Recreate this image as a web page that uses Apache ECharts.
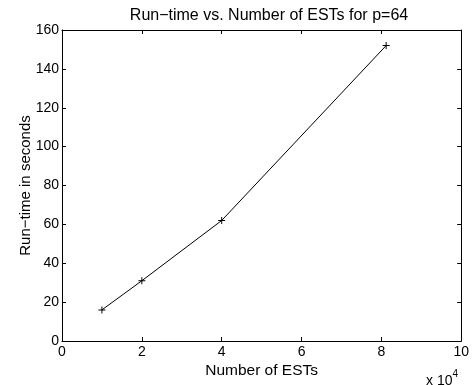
<!DOCTYPE html>
<html>
<head>
<meta charset="utf-8">
<script src="https://cdn.jsdelivr.net/npm/echarts@6/dist/echarts.min.js"></script>
<style>html,body{margin:0;padding:0;background:#fff}#c{width:472px;height:385px}</style>
</head>
<body>
<div id="c"></div>
<script>
// Data (x in units of 10^4 ESTs)
const ests = [1, 2, 4, 8.12];
const runtime = [16, 31, 62, 152];
const xTicks = [0, 2, 4, 6, 8, 10];
const yTicks = [0, 20, 40, 60, 80, 100, 120, 140, 160];

const FONT = 'Liberation Sans, Arial, Helvetica, sans-serif';
const chart = echarts.init(document.getElementById('c'), null, {renderer: 'canvas'});
const plusPath = 'path://M4.3,0h1.4v4.3h4.3v1.4h-4.3v4.3h-1.4v-4.3h-4.3v-1.4h4.3z';

const axisCommon = {
  type: 'value',
  axisLine: {show: true, onZero: false, lineStyle: {color: '#000', width: 1}},
  axisTick: {show: true, inside: true, length: 4, lineStyle: {color: '#000', width: 1}},
  splitLine: {show: false}
};

chart.setOption({
  backgroundColor: '#fff',
  animation: false,
  title: {
    text: 'Run\u2212time vs. Number of ESTs for p=64',
    left: 264, top: 3, textAlign: 'center',
    textStyle: {fontFamily: FONT, fontSize: 16, fontWeight: 'normal', color: '#000'}
  },
  grid: {left: 62, top: 30, right: 10, bottom: 44, containLabel: false},
  xAxis: [
    Object.assign({}, axisCommon, {
      min: xTicks[0], max: xTicks[xTicks.length - 1], interval: 2, position: 'bottom',
      name: 'Number of ESTs', nameLocation: 'middle', nameGap: 22, nameMoveOverlap: false,
      nameTextStyle: {fontFamily: FONT, fontSize: 15.5, color: '#000'},
      axisLabel: {color: '#000', fontFamily: FONT, fontSize: 14, margin: 4}
    }),
    Object.assign({}, axisCommon, {
      min: xTicks[0], max: xTicks[xTicks.length - 1], interval: 2, position: 'top',
      axisLabel: {show: false}
    })
  ],
  yAxis: [
    Object.assign({}, axisCommon, {
      min: yTicks[0], max: yTicks[yTicks.length - 1], interval: 20, position: 'left',
      name: 'Run\u2212time in seconds', nameLocation: 'middle', nameGap: 29, nameMoveOverlap: false,
      nameTextStyle: {fontFamily: FONT, fontSize: 15, color: '#000'},
      axisLabel: {color: '#000', fontFamily: FONT, fontSize: 14, margin: 3}
    }),
    Object.assign({}, axisCommon, {
      min: yTicks[0], max: yTicks[yTicks.length - 1], interval: 20, position: 'right',
      axisLabel: {show: false}
    })
  ],
  series: [{
    type: 'line',
    data: ests.map((x, i) => [x, runtime[i]]),
    symbol: plusPath,
    symbolSize: 7,
    showAllSymbol: true,
    lineStyle: {color: '#000', width: 1},
    itemStyle: {color: '#000'}
  }],
  graphic: [{
    type: 'text', left: 426, top: 369,
    style: {
      text: '{a|x 10}{b|4}',
      rich: {
        a: {fontFamily: FONT, fontSize: 14, fill: '#000', verticalAlign: 'bottom'},
        b: {fontFamily: FONT, fontSize: 10, fill: '#000', verticalAlign: 'top', padding: [0, 0, 9, 0]}
      }
    }
  }]
});
</script>
</body>
</html>
